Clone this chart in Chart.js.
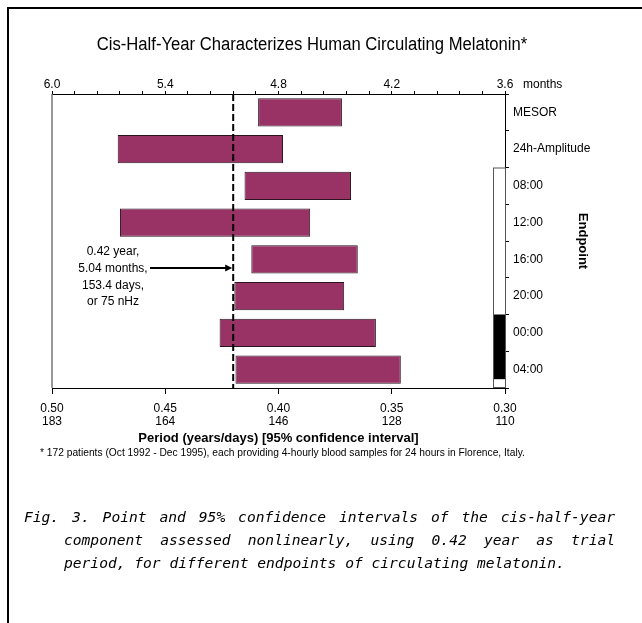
<!DOCTYPE html>
<html><head><meta charset="utf-8">
<script src="https://cdn.jsdelivr.net/npm/chart.js@4/dist/chart.umd.min.js"></script>
<style>
html,body{margin:0;padding:0;background:#fff;}
#wrap{position:relative;width:642px;height:623px;overflow:hidden;background:#fff;}
#frame{position:absolute;left:7px;top:7px;width:700px;height:700px;border-top:2px solid #000;border-left:2px solid #000;}
#c{position:absolute;left:0;top:0;}
#title{position:absolute;left:0;top:34px;width:624px;text-align:center;font-family:"Liberation Sans",Arial,sans-serif;font-size:18px;line-height:20px;color:#000;white-space:nowrap;transform:scaleX(0.925);transform-origin:312px 0;}
#foot{position:absolute;left:40px;top:446px;font-family:"Liberation Sans",Arial,sans-serif;font-size:11px;color:#000;white-space:nowrap;transform:scaleX(0.93);transform-origin:0 0;}
.cap{position:absolute;font-family:"DejaVu Sans Mono",monospace;font-style:italic;font-size:14.6px;line-height:18px;color:#000;white-space:nowrap;}
.just{text-align:justify;text-align-last:justify;white-space:normal;}
</style></head>
<body><div id="wrap">
<div id="frame"></div>
<canvas id="c" width="642" height="623"></canvas>
<div id="title">Cis-Half-Year Characterizes Human Circulating Melatonin*</div>
<div id="foot">* 172 patients (Oct 1992 - Dec 1995), each providing 4-hourly blood samples for 24 hours in Florence, Italy.</div>
<div class="cap just" style="left:24px;top:508px;width:591px;">Fig. 3. Point and 95% confidence intervals of the cis-half-year</div>
<div class="cap just" style="left:64px;top:531px;width:551px;">component assessed nonlinearly, using 0.42 year as trial</div>
<div class="cap" style="left:64px;top:554px;">period, for different endpoints of circulating melatonin.</div>
</div>
<script>
// ---- data ----
const endpoints = ['MESOR','24h-Amplitude','08:00','12:00','16:00','20:00','00:00','04:00'];
const ciShort = [0.372, 0.398, 0.368, 0.386, 0.365, 0.371, 0.357, 0.346];
const ciLong  = [0.409, 0.471, 0.415, 0.470, 0.412, 0.4195, 0.426, 0.419];
const trialPeriod = 0.42;
const yearTicks = [0.50, 0.45, 0.40, 0.35, 0.30];
const dayTicks = [183, 164, 146, 128, 110];
const monthTicks = ['6.0', '5.4', '4.8', '4.2', '3.6'];
const annotationLines = ['0.42 year,', '5.04 months,', '153.4 days,', 'or 75 nHz'];
const darkSpan = [5.5, 7.26];   // dark part of the light/dark strip (category units)
const lightSpan = [1.5, 7.5];

const FONT = '"Liberation Sans", Arial, sans-serif';
Chart.defaults.font.family = FONT;
Chart.defaults.color = '#000';

const decor = {
  id: 'decor',
  afterDraw(chart) {
    const {ctx, chartArea: a, scales: {x, y}} = chart;
    ctx.save();
    // left frame line
    ctx.strokeStyle = '#777'; ctx.lineWidth = 1.5;
    ctx.beginPath(); ctx.moveTo(a.left, a.top); ctx.lineTo(a.left, a.bottom); ctx.stroke();
    // light/dark strip
    const sx = a.right - 12, sw = 12;
    const ly0 = y.getPixelForValue(lightSpan[0]), ly1 = y.getPixelForValue(lightSpan[1]);
    const dy0 = y.getPixelForValue(darkSpan[0]), dy1 = y.getPixelForValue(darkSpan[1]);
    ctx.fillStyle = '#fff'; ctx.fillRect(sx, ly0, sw, ly1 - ly0);
    ctx.fillStyle = '#000'; ctx.fillRect(sx, dy0, sw, dy1 - dy0);
    ctx.strokeStyle = '#555'; ctx.lineWidth = 1;
    ctx.strokeRect(sx + 0.5, ly0 + 0.5, sw, ly1 - ly0 - 1);
    // dashed trial period line
    const tx = x.getPixelForValue(trialPeriod);
    ctx.strokeStyle = '#000'; ctx.lineWidth = 2; ctx.setLineDash([7, 3]);
    ctx.beginPath(); ctx.moveTo(tx, a.top); ctx.lineTo(tx, a.bottom); ctx.stroke();
    ctx.setLineDash([]);
    // annotation
    ctx.font = '12px ' + FONT; ctx.fillStyle = '#000';
    ctx.textAlign = 'center'; ctx.textBaseline = 'middle';
    const ax = 113, ay0 = 252, lh = 16.6;
    annotationLines.forEach((t, i) => ctx.fillText(t, ax, ay0 + i * lh));
    const arY = 268;
    ctx.lineWidth = 2;
    ctx.beginPath(); ctx.moveTo(150, arY); ctx.lineTo(tx - 6, arY); ctx.stroke();
    ctx.beginPath(); ctx.moveTo(tx - 1, arY); ctx.lineTo(tx - 8, arY - 3.5); ctx.lineTo(tx - 8, arY + 3.5); ctx.closePath(); ctx.fill();
    // "months" unit label
    ctx.font = '12px ' + FONT; ctx.textAlign = 'left';
    ctx.fillText('months', a.right + 18, 85);
    ctx.restore();
  }
};

const minorYears = [];
for (let k = 0; k <= 20; k++) minorYears.push(Math.round((0.30 + k * 0.01) * 100) / 100);

new Chart(document.getElementById('c'), {
  type: 'bar',
  data: {
    labels: endpoints,
    datasets: [{
      data: endpoints.map((_, i) => [ciShort[i], ciLong[i]]),
      backgroundColor: '#993366',
      borderColor: '#2a1420',
      borderWidth: 1,
      borderSkipped: false,
      barPercentage: 0.77,
      categoryPercentage: 1
    }]
  },
  options: {
    indexAxis: 'y',
    responsive: false,
    animation: false,
    layout: {padding: {left: 52, right: 0, top: 64, bottom: 175}},
    plugins: {
      legend: {display: false},
      tooltip: {enabled: false},
      title: {display: false}
    },
    scales: {
      x: {
        type: 'linear', position: 'bottom', min: 0.30, max: 0.50, reverse: true,
        afterBuildTicks: s => { s.ticks = yearTicks.map(v => ({value: v})); },
        ticks: {
          autoSkip: false, maxRotation: 0, padding: 8,
          font: {size: 12, lineHeight: 1.1},
          callback: (v) => { const i = yearTicks.indexOf(Math.round(v * 100) / 100); return i < 0 ? '' : [yearTicks[i].toFixed(2), String(dayTicks[i])]; }
        },
        grid: {drawOnChartArea: false, tickLength: 6, color: '#000'},
        border: {color: '#000', width: 1},
        title: {display: true, text: 'Period (years/days) [95% confidence interval]', font: {size: 13, weight: 'bold'}, color: '#000', padding: {top: 0, bottom: 2}},
        afterFit: s => { s.height = 60; }
      },
      x2: {
        type: 'linear', position: 'top', min: 0.30, max: 0.50, reverse: true,
        afterBuildTicks: s => { s.ticks = minorYears.map(v => ({value: v})); },
        ticks: {
          autoSkip: false, maxRotation: 0, padding: -1,
          font: {size: 12},
          callback: (v) => { const i = yearTicks.indexOf(Math.round(v * 100) / 100); return i < 0 ? '' : monthTicks[i]; }
        },
        grid: {drawOnChartArea: false, tickLength: 3, color: '#000'},
        border: {color: '#000', width: 1},
        afterFit: s => { s.height = 30; }
      },
      y: {
        position: 'right', offset: true,
        grid: {drawOnChartArea: false, offset: true, tickLength: 4, color: '#000'},
        border: {color: '#000', width: 1},
        ticks: {font: {size: 12}, padding: 4, color: '#000'},
        title: {display: true, text: 'Endpoint', font: {size: 13, weight: 'bold'}, color: '#000', padding: {top: 52, bottom: 0}},
        afterFit: s => { s.width = 137; }
      }
    }
  },
  plugins: [decor]
});
</script>
</body></html>
